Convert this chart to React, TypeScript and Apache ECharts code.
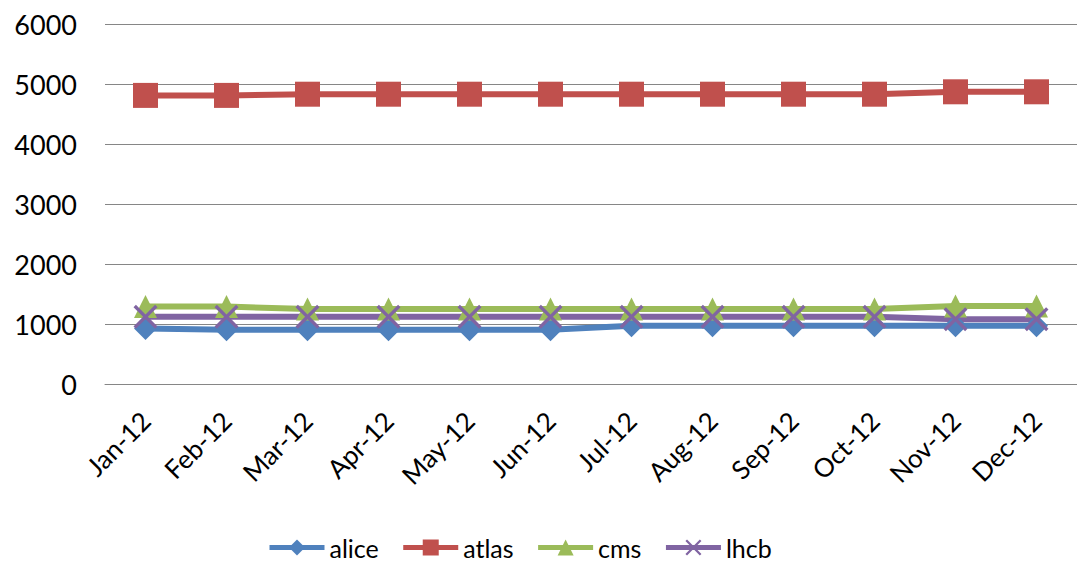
import React, { useEffect, useRef } from "react";
import * as echarts from "echarts";

const categories = ["Jan-12", "Feb-12", "Mar-12", "Apr-12", "May-12", "Jun-12", "Jul-12", "Aug-12", "Sep-12", "Oct-12", "Nov-12", "Dec-12"];
const alice = [925, 905, 905, 905, 905, 905, 970, 970, 970, 970, 970, 970];
const atlas = [4810, 4810, 4830, 4830, 4830, 4830, 4830, 4830, 4830, 4830, 4870, 4870];
const cms = [1290, 1290, 1250, 1250, 1250, 1250, 1250, 1250, 1250, 1250, 1300, 1300];
const lhcb = [1120, 1120, 1120, 1120, 1120, 1120, 1120, 1120, 1120, 1120, 1080, 1080];
const yTicks = [0, 1000, 2000, 3000, 4000, 5000, 6000];

const FONT = "Lato, 'Noto Sans', sans-serif";
const X_SYMBOL = "path://M0,1 L1,0 L5,4 L9,0 L10,1 L6,5 L10,9 L9,10 L5,6 L1,10 L0,9 L4,5 Z";

export default function App() {
  const ref = useRef<HTMLDivElement>(null);
  useEffect(() => {
    if (!ref.current) return;
    const chart = echarts.init(ref.current, null, { renderer: "svg" });
    const mk = (name: string, data: number[], color: string, symbol: string, size: number) => ({
      name,
      type: "line",
      data,
      symbol,
      symbolSize: size,
      showAllSymbol: true,
      lineStyle: { color, width: 6 },
      itemStyle: { color, borderWidth: 0 },
    });
    chart.setOption({
      animation: false,
      grid: { left: 105, right: -4, top: 24, bottom: 177, containLabel: false },
      legend: {
        top: 530,
        left: 262,
        itemWidth: 55,
        itemHeight: 20,
        itemGap: 22,
        lineStyle: { width: 5 },
        textStyle: { fontFamily: FONT, fontSize: 25, color: "#000" },
        data: ["alice", "atlas", "cms", "lhcb"],
      },
      xAxis: {
        type: "category",
        data: categories,
        boundaryGap: true,
        axisLine: { show: true, lineStyle: { color: "#868686", width: 1 } },
        axisTick: { show: false },
        axisLabel: { rotate: 45, fontFamily: FONT, fontSize: 26, color: "#000", margin: 32, interval: 0 },
      },
      yAxis: {
        type: "value",
        min: yTicks[0],
        max: yTicks[yTicks.length - 1],
        interval: 1000,
        axisLine: { show: false },
        axisTick: { show: false },
        splitLine: { lineStyle: { color: "#868686", width: 1 } },
        axisLabel: { fontFamily: FONT, fontSize: 27, color: "#000", margin: 28, formatter: (v: number) => String(v) },
      },
      series: [
        mk("alice", alice, "#4F81BD", "diamond", 23),
        mk("atlas", atlas, "#C0504D", "rect", 25),
        mk("cms", cms, "#9BBB59", "triangle", 23),
        mk("lhcb", lhcb, "#8064A2", X_SYMBOL, 24),
      ],
    });
    return () => chart.dispose();
  }, []);
  return <div ref={ref} style={{ position: "absolute", left: 0, top: 0, width: 1077, height: 561, background: "#fff" }} />;
}
